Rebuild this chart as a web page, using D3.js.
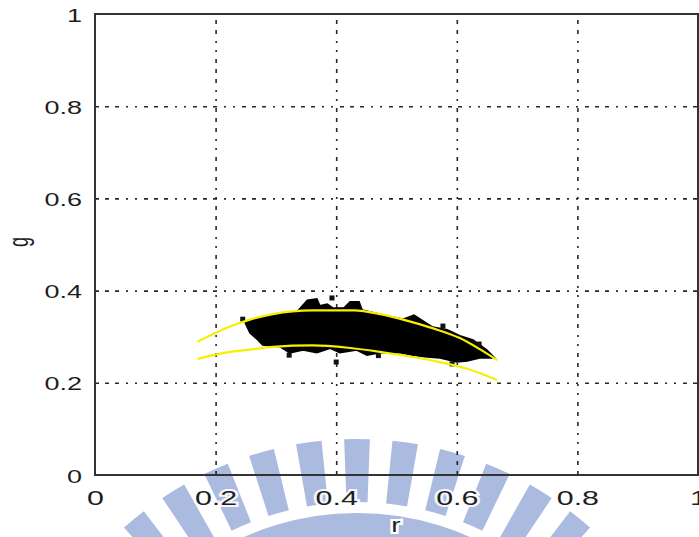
<!DOCTYPE html>
<html>
<head>
<meta charset="utf-8">
<script src="https://cdn.jsdelivr.net/npm/d3@7"></script>
<style>
  body { margin: 0; background: #fff; overflow: hidden; }
  svg { display: block; }
  text { font-family: "Liberation Sans", Arial, sans-serif; fill: #1e1e1e; }
</style>
</head>
<body>
<svg id="chart" width="699" height="537"></svg>
<script>
// ---- data ----
const xTicks = [0, 0.2, 0.4, 0.6, 0.8, 1];
const yTicks = [0, 0.2, 0.4, 0.6, 0.8, 1];
const xTickLabels = ["0", "0.2", "0.4", "0.6", "0.8", "1"];
const yTickLabels = ["0", "0.2", "0.4", "0.6", "0.8", "1"];
const xTitle = "r";
const yTitle = "g";

// upper yellow bound [r, g]
const upperBound = [
  [0.170, 0.289], [0.224, 0.322], [0.257, 0.337], [0.295, 0.349], [0.360, 0.357],
  [0.430, 0.357], [0.473, 0.349], [0.517, 0.335], [0.561, 0.318], [0.605, 0.297],
  [0.638, 0.273], [0.667, 0.249]
];
// lower yellow bound [r, g]
const lowerBound = [
  [0.170, 0.252], [0.224, 0.267], [0.257, 0.272], [0.295, 0.278], [0.361, 0.281],
  [0.420, 0.276], [0.483, 0.265], [0.527, 0.256], [0.571, 0.245], [0.616, 0.231],
  [0.667, 0.206]
];
// outline of the black cluster [r, g]
const clusterOutline = [
  [0.249, 0.330], [0.262, 0.338], [0.295, 0.347], [0.335, 0.354], [0.345, 0.369],
  [0.352, 0.379], [0.368, 0.382], [0.373, 0.367], [0.385, 0.371], [0.395, 0.362],
  [0.413, 0.363], [0.423, 0.376], [0.438, 0.376], [0.443, 0.358], [0.473, 0.349],
  [0.511, 0.338], [0.529, 0.347], [0.542, 0.336], [0.560, 0.321], [0.584, 0.315],
  [0.605, 0.302], [0.627, 0.293], [0.650, 0.271], [0.663, 0.254],
  [0.638, 0.254], [0.617, 0.247], [0.600, 0.245], [0.572, 0.254], [0.551, 0.256],
  [0.527, 0.260], [0.506, 0.265], [0.473, 0.265], [0.451, 0.260], [0.434, 0.271],
  [0.406, 0.265], [0.390, 0.275], [0.368, 0.265], [0.345, 0.271], [0.323, 0.265],
  [0.307, 0.278], [0.278, 0.282], [0.270, 0.293], [0.257, 0.308]
];
// stray pixels around the cluster [r, g]
const strayPoints = [
  [0.245, 0.338], [0.393, 0.384], [0.400, 0.245], [0.322, 0.260],
  [0.592, 0.241], [0.577, 0.323], [0.637, 0.284], [0.470, 0.259]
];

// ---- layout ----
const svg = d3.select("#chart");
const margin = { left: 95, top: 14, right: 1, bottom: 62 };
const width = 699 - margin.left - margin.right;   // 603
const height = 537 - margin.top - margin.bottom;  // 461

const xScale = d3.scaleLinear().domain([0, 1]).range([margin.left, margin.left + width]);
const yScale = d3.scaleLinear().domain([0, 1]).range([margin.top + height, margin.top]);

// ---- faint watermark behind everything ----
const wm = svg.append("g")
  .attr("transform", "translate(357,790)")
  .attr("fill", "#abbbe0");
const arc = d3.arc();
const step = 7.9 * Math.PI / 180;
const half = 2.1 * Math.PI / 180;
d3.range(-7, 8).forEach(k => {
  wm.append("path").attr("d", arc({
    innerRadius: 288, outerRadius: 351,
    startAngle: k * step - half, endAngle: k * step + half
  }));
});
wm.append("path").attr("d", arc({ innerRadius: 200, outerRadius: 277, startAngle: -0.6, endAngle: 0.6 }));

// ---- grid (dash-dot) via axes ----
const gridDash = "4,6,4,6,4,7,2,7,2,7";

const xAxis = svg.append("g")
  .attr("transform", `translate(0,${margin.top + height})`)
  .call(d3.axisBottom(xScale).tickValues(xTicks).tickSize(-height)
    .tickFormat((d, i) => xTickLabels[i]));
xAxis.select(".domain").remove();
xAxis.selectAll(".tick line")
  .attr("stroke", "#111")
  .attr("stroke-width", 1.6)
  .attr("stroke-dasharray", gridDash)
  .attr("opacity", d => (d === 0 || d === 1) ? 0 : 0.9);
xAxis.selectAll(".tick text")
  .attr("y", null).attr("dy", null)
  .attr("transform", "translate(0,30) scale(1.45,1)")
  .attr("font-size", 21)
  .attr("fill", "#1e1e1e")
  .attr("stroke", "#fff").attr("stroke-width", 4).attr("paint-order", "stroke")
  .attr("stroke-opacity", d => d === 0 ? 0 : 0.9);

const yAxis = svg.append("g")
  .attr("transform", `translate(${margin.left},0)`)
  .call(d3.axisLeft(yScale).tickValues(yTicks).tickSize(-width)
    .tickFormat((d, i) => yTickLabels[i]));
yAxis.select(".domain").remove();
yAxis.selectAll(".tick line")
  .attr("stroke", "#111")
  .attr("stroke-width", 1.6)
  .attr("stroke-dasharray", gridDash)
  .attr("opacity", d => (d === 0 || d === 1) ? 0 : 0.9);
yAxis.selectAll(".tick text")
  .attr("x", null).attr("dy", null)
  .attr("text-anchor", "end")
  .attr("transform", "translate(-13,7) scale(1.5,1)")
  .attr("font-size", 18)
  .attr("fill", "#1e1e1e");

// ---- cluster ----
const poly = d3.line()
  .x(d => xScale(d[0]))
  .y(d => yScale(d[1]))
  .curve(d3.curveLinearClosed);

svg.append("path")
  .datum(clusterOutline)
  .attr("d", poly)
  .attr("fill", "#000")
  .attr("stroke", "#000")
  .attr("stroke-width", 1.5);

svg.selectAll(".stray")
  .data(strayPoints)
  .enter()
  .append("rect")
  .attr("class", "stray")
  .attr("x", d => xScale(d[0]) - 2.5)
  .attr("y", d => yScale(d[1]) - 2.5)
  .attr("width", 5)
  .attr("height", 5)
  .attr("fill", "#111");

// ---- yellow bounds ----
const curve = d3.line()
  .x(d => xScale(d[0]))
  .y(d => yScale(d[1]))
  .curve(d3.curveMonotoneX);

svg.selectAll(".bound")
  .data([upperBound, lowerBound])
  .enter()
  .append("path")
  .attr("class", "bound")
  .attr("d", curve)
  .attr("fill", "none")
  .attr("stroke", "#f6f000")
  .attr("stroke-width", 2.2);

// ---- axes box ----
svg.append("rect")
  .attr("x", xScale(0))
  .attr("y", yScale(1))
  .attr("width", xScale(1) - xScale(0))
  .attr("height", yScale(0) - yScale(1))
  .attr("fill", "none")
  .attr("stroke", "#333")
  .attr("stroke-width", 2);

// ---- axis titles ----
svg.append("text")
  .attr("text-anchor", "middle")
  .attr("transform", "translate(396,532) scale(1.4,1)")
  .attr("font-size", 20)
  .attr("stroke", "#fff").attr("stroke-width", 4).attr("paint-order", "stroke")
  .text(xTitle);

svg.append("text")
  .attr("text-anchor", "middle")
  .attr("transform", "translate(28,242) scale(1.5,1) rotate(-90)")
  .attr("font-size", 18)
  .text(yTitle);
</script>
</body>
</html>
